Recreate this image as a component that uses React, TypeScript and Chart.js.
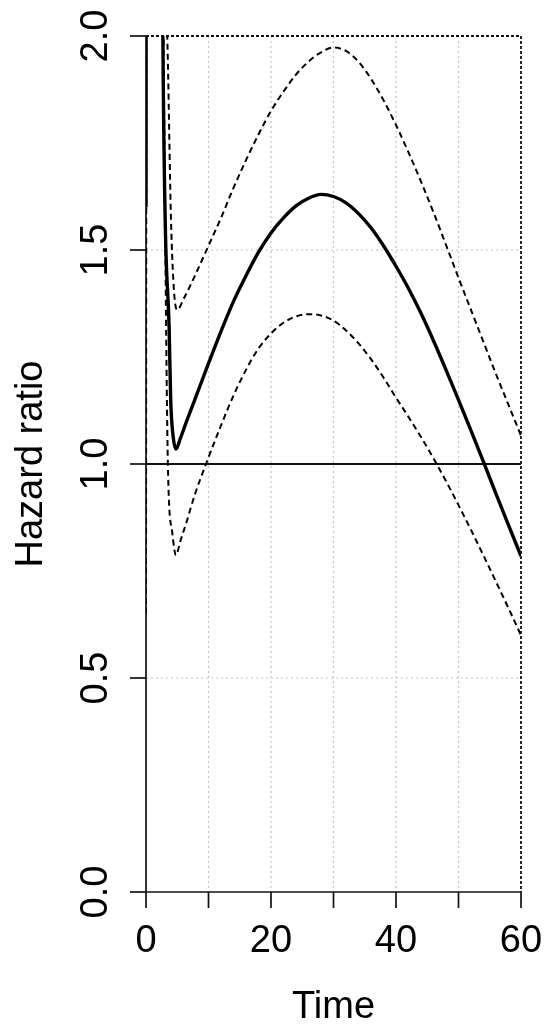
import React, { useEffect, useRef } from "react";
import { Chart, registerables } from "chart.js";

Chart.register(...registerables);

// ---- data ----
const mainTime = [0, 0.3, 1.5, 2.5, 2.7, 3.1, 3.7, 3.95, 4.3, 4.8, 5.5, 6.5, 7.8, 10, 12, 14, 16, 18, 20, 22, 24, 26, 28, 30, 32, 34, 36, 38, 40, 42, 44, 46, 48, 50, 52, 54, 56, 58, 60];
const mainHR = [1.6, 10, 14, 2.6, 2.0, 1.55, 1.32, 1.15, 1.07, 1.035, 1.06, 1.1, 1.15, 1.235, 1.31, 1.38, 1.44, 1.495, 1.54, 1.575, 1.603, 1.621, 1.63, 1.625, 1.61, 1.585, 1.552, 1.51, 1.462, 1.41, 1.352, 1.288, 1.22, 1.15, 1.078, 1.005, 0.93, 0.857, 0.785];

const upperTime = [0, 0.3, 1.5, 3.0, 3.4, 4.0, 4.5, 5.0, 6, 8.3, 10, 12, 14, 16, 18, 20, 22, 24, 26, 28, 30, 32, 34, 36, 38, 40, 42, 44, 46, 48, 50, 52, 54, 56, 58, 60];
const upperHR = [4, 20, 30, 2.6, 2.0, 1.57, 1.4, 1.36, 1.385, 1.455, 1.51, 1.575, 1.645, 1.71, 1.77, 1.825, 1.87, 1.91, 1.94, 1.962, 1.973, 1.965, 1.94, 1.9, 1.85, 1.792, 1.728, 1.66, 1.588, 1.512, 1.435, 1.36, 1.285, 1.21, 1.138, 1.066];

const lowerTime = [0, 0.3, 1.5, 2.5, 2.8, 3.5, 4.2, 4.8, 5.5, 6.5, 7.8, 9.6, 12, 14, 16, 18, 20, 22, 24, 26, 28, 30, 32, 34, 36, 38, 40, 42, 44, 46, 48, 50, 52, 54, 56, 58, 60];
const lowerHR = [0.65, 8, 10, 2.5, 2.0, 1.0, 0.84, 0.787, 0.82, 0.865, 0.928, 1.0, 1.09, 1.16, 1.22, 1.27, 1.305, 1.33, 1.345, 1.35, 1.347, 1.335, 1.312, 1.282, 1.245, 1.202, 1.155, 1.11, 1.063, 1.013, 0.96, 0.904, 0.846, 0.786, 0.725, 0.663, 0.6];

const xTicks = [0, 10, 20, 30, 40, 50, 60];
const xTickLabels = ["0", "", "20", "", "40", "", "60"];
const yTicks = [0, 0.5, 1, 1.5, 2];
const yTickLabels = ["0.0", "0.5", "1.0", "1.5", "2.0"];
const gridX = [10, 20, 30, 40, 50];
const gridY = [0.5, 1.5];
const refLine = 1;
const xTitle = "Time";
const yTitle = "Hazard ratio";

const FONT = '38px "Liberation Sans", Arial, sans-serif';

const toPoints = (t: number[], v: number[]) => t.map((x, i) => ({ x, y: v[i] }));

const rPlot = {
  id: "rPlot",
  beforeDatasetsDraw(chart: any) {
    const { ctx, chartArea: a, scales } = chart;
    const xs = scales.x;
    const ys = scales.y;
    ctx.save();
    // light grey dotted grid
    ctx.strokeStyle = "#c4c4c4";
    ctx.lineWidth = 1.2;
    ctx.setLineDash([2, 3]);
    for (const g of gridX) {
      const px = xs.getPixelForValue(g);
      ctx.beginPath();
      ctx.moveTo(px, a.top);
      ctx.lineTo(px, a.bottom);
      ctx.stroke();
    }
    for (const g of gridY) {
      const py = ys.getPixelForValue(g);
      ctx.beginPath();
      ctx.moveTo(a.left, py);
      ctx.lineTo(a.right, py);
      ctx.stroke();
    }
    // reference line at HR = 1
    ctx.setLineDash([]);
    ctx.strokeStyle = "#111";
    ctx.lineWidth = 1.8;
    const pr = ys.getPixelForValue(refLine);
    ctx.beginPath();
    ctx.moveTo(a.left, pr);
    ctx.lineTo(a.right, pr);
    ctx.stroke();
    // axes lines
    ctx.strokeStyle = "#111";
    ctx.lineWidth = 1.7;
    ctx.beginPath();
    ctx.moveTo(a.left, ys.getPixelForValue(yTicks[yTicks.length - 1]));
    ctx.lineTo(a.left, ys.getPixelForValue(yTicks[0]));
    ctx.stroke();
    ctx.beginPath();
    ctx.moveTo(xs.getPixelForValue(xTicks[0]), a.bottom);
    ctx.lineTo(xs.getPixelForValue(xTicks[xTicks.length - 1]), a.bottom);
    ctx.stroke();
    ctx.restore();
  },
  afterDatasetsDraw(chart: any) {
    const { ctx, chartArea: a, scales } = chart;
    const xs = scales.x;
    const ys = scales.y;
    ctx.save();
    // dotted black top & right border
    ctx.strokeStyle = "#111";
    ctx.lineWidth = 1.8;
    ctx.setLineDash([3, 2]);
    ctx.beginPath();
    ctx.moveTo(a.left, a.top);
    ctx.lineTo(a.right, a.top);
    ctx.lineTo(a.right, a.bottom);
    ctx.stroke();
    ctx.setLineDash([]);
    // ticks
    ctx.lineWidth = 1.7;
    for (const t of xTicks) {
      const px = xs.getPixelForValue(t);
      ctx.beginPath();
      ctx.moveTo(px, a.bottom);
      ctx.lineTo(px, a.bottom + 16);
      ctx.stroke();
    }
    for (const t of yTicks) {
      const py = ys.getPixelForValue(t);
      ctx.beginPath();
      ctx.moveTo(a.left, py);
      ctx.lineTo(a.left - 16, py);
      ctx.stroke();
    }
    // tick labels
    ctx.fillStyle = "#000";
    ctx.font = FONT;
    ctx.textAlign = "center";
    ctx.textBaseline = "alphabetic";
    xTicks.forEach((t, i) => {
      const lab = xTickLabels[i];
      if (!lab) return;
      ctx.fillText(lab, xs.getPixelForValue(t), a.bottom + 60);
    });
    yTicks.forEach((t, i) => {
      const lab = yTickLabels[i];
      if (!lab) return;
      ctx.save();
      ctx.translate(a.left - 39, ys.getPixelForValue(t));
      ctx.rotate(-Math.PI / 2);
      ctx.fillText(lab, 0, 0);
      ctx.restore();
    });
    // axis titles
    ctx.fillText(xTitle, (a.left + a.right) / 2, a.bottom + 126);
    ctx.save();
    ctx.translate(42, (a.top + a.bottom) / 2);
    ctx.rotate(-Math.PI / 2);
    ctx.fillText(yTitle, 0, 0);
    ctx.restore();
    ctx.restore();
  },
};

export default function App() {
  const ref = useRef<HTMLCanvasElement | null>(null);
  useEffect(() => {
    if (!ref.current) return;
    const chart = new Chart(ref.current, {
      type: "line",
      data: {
        datasets: [
          {
            label: "HR",
            data: toPoints(mainTime, mainHR),
            borderColor: "#000",
            borderWidth: 3.4,
            pointRadius: 0,
            cubicInterpolationMode: "monotone",
            clip: 0,
          },
          {
            label: "Upper",
            data: toPoints(upperTime, upperHR),
            borderColor: "#000",
            borderWidth: 2,
            borderDash: [6, 4],
            pointRadius: 0,
            cubicInterpolationMode: "monotone",
            clip: 0,
          },
          {
            label: "Lower",
            data: toPoints(lowerTime, lowerHR),
            borderColor: "#000",
            borderWidth: 2,
            borderDash: [6, 4],
            pointRadius: 0,
            cubicInterpolationMode: "monotone",
            clip: 0,
          },
        ],
      } as any,
      options: {
        animation: false,
        responsive: false,
        devicePixelRatio: 1,
        layout: { padding: { left: 146, right: 29, top: 36, bottom: 138 } },
        scales: {
          x: { type: "linear", min: 0, max: 60, display: false },
          y: { type: "linear", min: 0, max: 2, display: false },
        },
        plugins: { legend: { display: false }, tooltip: { enabled: false } },
        events: [],
      } as any,
      plugins: [rPlot],
    });
    return () => chart.destroy();
  }, []);
  return (
    <div style={{ position: "absolute", left: 0, top: 0, width: 550, height: 1030, background: "#fff" }}>
      <canvas ref={ref} width={550} height={1030} style={{ display: "block", width: 550, height: 1030 }} />
    </div>
  );
}
